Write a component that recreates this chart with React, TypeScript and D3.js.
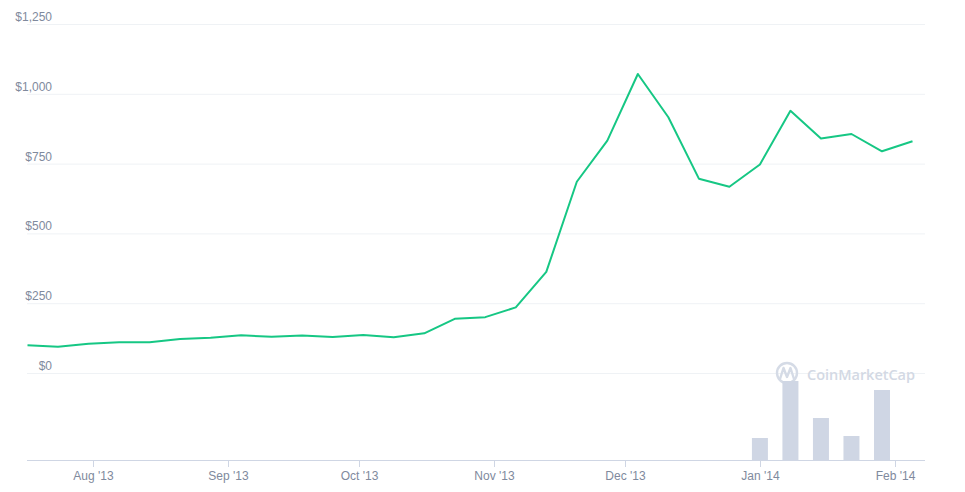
import React, { useEffect, useRef } from 'react';
import * as d3 from 'd3';

// weekly closing prices (USD)
const dates = [
    '2013-07-17', '2013-07-24', '2013-07-31', '2013-08-07', '2013-08-14', '2013-08-21',
    '2013-08-28', '2013-09-04', '2013-09-11', '2013-09-18', '2013-09-25', '2013-10-02',
    '2013-10-09', '2013-10-16', '2013-10-23', '2013-10-30', '2013-11-06', '2013-11-13',
    '2013-11-20', '2013-11-27', '2013-12-04', '2013-12-11', '2013-12-18', '2013-12-25',
    '2014-01-01', '2014-01-08', '2014-01-15', '2014-01-22', '2014-01-29', '2014-02-05',
];
const prices = [
    99, 94, 105, 110, 110, 122, 126, 135, 130, 134, 129, 136, 128, 142, 194,
    200, 235, 362, 685, 832, 1071, 916, 696, 667, 747, 939, 840, 856, 794, 830,
];
// volume in millions of USD, only known for the last weeks
const volumes: (number | null)[] = [
    null, null, null, null, null, null, null, null, null, null, null, null, null, null, null,
    null, null, null, null, null, null, null, null, null, 44, 158, 84, 48, 140, null,
];
const priceTicks = [0, 250, 500, 750, 1000, 1250];
const monthTicks = ['2013-08-01', '2013-09-01', '2013-10-01', '2013-11-01', '2013-12-01', '2014-01-01', '2014-02-01'];

const W = 965;
const H = 492;

const App: React.FC = () => {
    const ref = useRef<SVGSVGElement | null>(null);

    useEffect(() => {
        if (!ref.current) return;
        const svg = d3.select(ref.current);
        svg.selectAll('*').remove();

        const parse = d3.utcParse('%Y-%m-%d');
        const xs = dates.map(d => parse(d)!);
        const left = 27;
        const right = 925;
        const font = '"Liberation Sans", Arial, sans-serif';

        const x = d3.scaleUtc()
            .domain([xs[0], xs[xs.length - 1]])
            .range([27.5, 912.5]);
        const y = d3.scaleLinear().domain([0, 1250]).range([373, 24]);
        const yv = d3.scaleLinear().domain([0, 160]).range([460, 380]);

        // grid lines + price labels
        const grid = svg.append('g');
        grid.selectAll('line')
            .data(priceTicks)
            .enter()
            .append('line')
            .attr('x1', left)
            .attr('x2', right)
            .attr('y1', d => y(d) + 0.5)
            .attr('y2', d => y(d) + 0.5)
            .attr('stroke', '#eff2f5')
            .attr('stroke-width', 1);
        grid.selectAll('text')
            .data(priceTicks)
            .enter()
            .append('text')
            .attr('x', 52)
            .attr('y', d => y(d) - 3)
            .attr('text-anchor', 'end')
            .style('font-family', font)
            .style('font-size', '12px')
            .style('fill', '#808a9d')
            .text(d => '$' + d3.format(',')(d));

        // watermark
        const wm = svg.append('g');
        wm.append('circle')
            .attr('cx', 787).attr('cy', 373).attr('r', 10)
            .attr('fill', 'none').attr('stroke', '#d5dbe6').attr('stroke-width', 2.4);
        wm.append('path')
            .attr('d', 'M780,379 L783.5,368 L787,377 L790.5,368 L794,379')
            .attr('fill', 'none').attr('stroke', '#d5dbe6').attr('stroke-width', 2.4)
            .attr('stroke-linejoin', 'round').attr('stroke-linecap', 'round');
        wm.append('text')
            .attr('x', 807).attr('y', 379.5)
            .attr('textLength', 108)
            .style('font-family', '"Open Sans", "Noto Sans", sans-serif')
            .style('font-size', '14.5px')
            .style('font-weight', 600)
            .style('fill', '#d3d9e4')
            .text('CoinMarketCap');

        // volume bars
        const volData = xs.map((d, i) => ({ d, v: volumes[i] })).filter(p => p.v != null) as { d: Date; v: number }[];
        svg.append('g')
            .selectAll('rect')
            .data(volData)
            .enter()
            .append('rect')
            .attr('x', p => x(p.d) - 8)
            .attr('y', p => yv(p.v))
            .attr('width', 16)
            .attr('height', p => yv(0) - yv(p.v))
            .attr('fill', '#cfd6e4');

        // price line
        const line = d3.line<number>()
            .x((_, i) => x(xs[i]))
            .y(d => y(d));
        svg.append('path')
            .datum(prices)
            .attr('d', line)
            .attr('fill', 'none')
            .attr('stroke', '#16c784')
            .attr('stroke-width', 2)
            .attr('stroke-linejoin', 'round');

        // x axis
        const axis = svg.append('g');
        axis.append('line')
            .attr('x1', left).attr('x2', right)
            .attr('y1', 460.5).attr('y2', 460.5)
            .attr('stroke', '#cfd6e4');
        const mt = monthTicks.map(d => parse(d)!);
        const fmt = d3.utcFormat("%b '%y");
        const ticks = axis.selectAll('g.tick')
            .data(mt)
            .enter()
            .append('g')
            .attr('class', 'tick')
            .attr('transform', d => `translate(${Math.round(x(d)) + 0.5},0)`);
        ticks.append('line')
            .attr('y1', 460).attr('y2', 467)
            .attr('stroke', '#cfd6e4');
        ticks.append('text')
            .attr('y', 480)
            .attr('text-anchor', 'middle')
            .style('font-family', font)
            .style('font-size', '12px')
            .style('fill', '#808a9d')
            .text(d => fmt(d));
    }, []);

    return (
        <svg
            ref={ref}
            width={W}
            height={H}
            style={{ position: 'fixed', left: 0, top: 0, background: '#fff' }}
        />
    );
};

export default App;
